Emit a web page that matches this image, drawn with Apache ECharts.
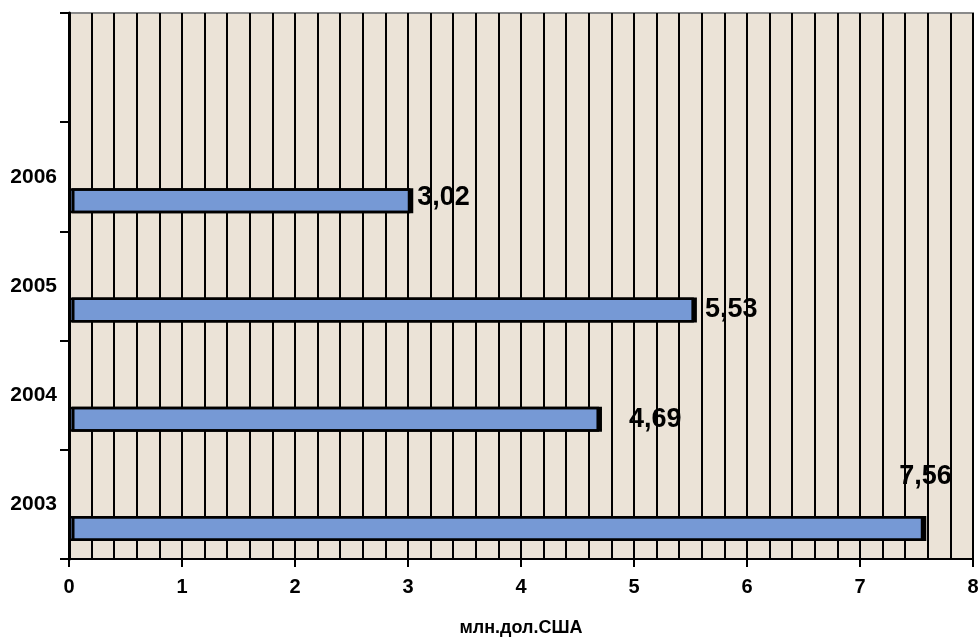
<!DOCTYPE html>
<html>
<head>
<meta charset="utf-8">
<script src="https://cdn.jsdelivr.net/npm/echarts@6/dist/echarts.min.js"></script>
<style>
html,body{margin:0;padding:0;background:#fff;}
#c{width:979px;height:639px;}
</style>
</head>
<body>
<div id="c"></div>
<script>
var categories = ['2003', '2004', '2005', '2006', ''];
var values = [7.56, 4.69, 5.53, 3.02, '-'];
var valueLabels = ['7,56', '4,69', '5,53', '3,02', ''];
var labelOffsets = [[-28, -52], [26, 0], [7, 0], [3, -3], [0, 0]];
var xTicks = {min: 0, max: 8, interval: 1};
var axisName = 'млн.дол.США';

var chart = echarts.init(document.getElementById('c'), null, {renderer: 'canvas'});
var font = 'Arial, "Liberation Sans", sans-serif';

var barData = values.map(function (v, i) {
  return {
    value: v,
    label: {offset: labelOffsets[i]}
  };
});

chart.setOption({
  animation: false,
  backgroundColor: '#ffffff',
  grid: {
    left: 69, right: 6, top: 13, bottom: 80,
    outerBoundsMode: 'none',
    containLabel: false,
    show: true,
    backgroundColor: '#ebe3d7',
    borderColor: '#8a8a8a',
    borderWidth: 2
  },
  xAxis: {
    type: 'value',
    min: xTicks.min, max: xTicks.max, interval: xTicks.interval,
    name: axisName,
    nameLocation: 'middle',
    nameGap: 60,
    nameTextStyle: {fontFamily: font, fontWeight: 'bold', fontSize: 18, color: '#000'},
    axisLine: {show: true, lineStyle: {color: '#000', width: 2}},
    axisTick: {show: true, length: 8, lineStyle: {color: '#000', width: 2}},
    axisLabel: {fontFamily: font, fontWeight: 'bold', fontSize: 20, color: '#000', margin: 18},
    splitLine: {show: true, lineStyle: {color: '#000', width: 2}},
    minorTick: {show: false, splitNumber: 5},
    minorSplitLine: {show: true, lineStyle: {color: '#000', width: 2}}
  },
  yAxis: {
    type: 'category',
    data: categories,
    axisLine: {show: true, lineStyle: {color: '#000', width: 3}},
    axisTick: {show: true, length: 9, lineStyle: {color: '#000', width: 2}},
    axisLabel: {fontFamily: font, fontWeight: 'bold', fontSize: 21, color: '#000', margin: 12},
    splitLine: {show: false}
  },
  series: [
    {
      type: 'bar',
      data: categories.map(function () { return '-'; }),
      barWidth: 25,
      barGap: '92%',
      itemStyle: {color: 'transparent'}
    },
    {
      type: 'bar',
      data: barData,
      barWidth: 25,
      barGap: '92%',
      itemStyle: {
        color: '#7699d5',
        borderColor: '#000',
        borderWidth: 2.5,
        shadowColor: '#000',
        shadowOffsetX: 3,
        shadowOffsetY: 0,
        shadowBlur: 0
      },
      label: {
        show: true,
        position: 'right',
        distance: 4,
        fontFamily: font,
        fontWeight: 'bold',
        fontSize: 27,
        color: '#000',
        formatter: function (p) { return valueLabels[p.dataIndex]; }
      },
      z: 5
    }
  ]
});
</script>
</body>
</html>
